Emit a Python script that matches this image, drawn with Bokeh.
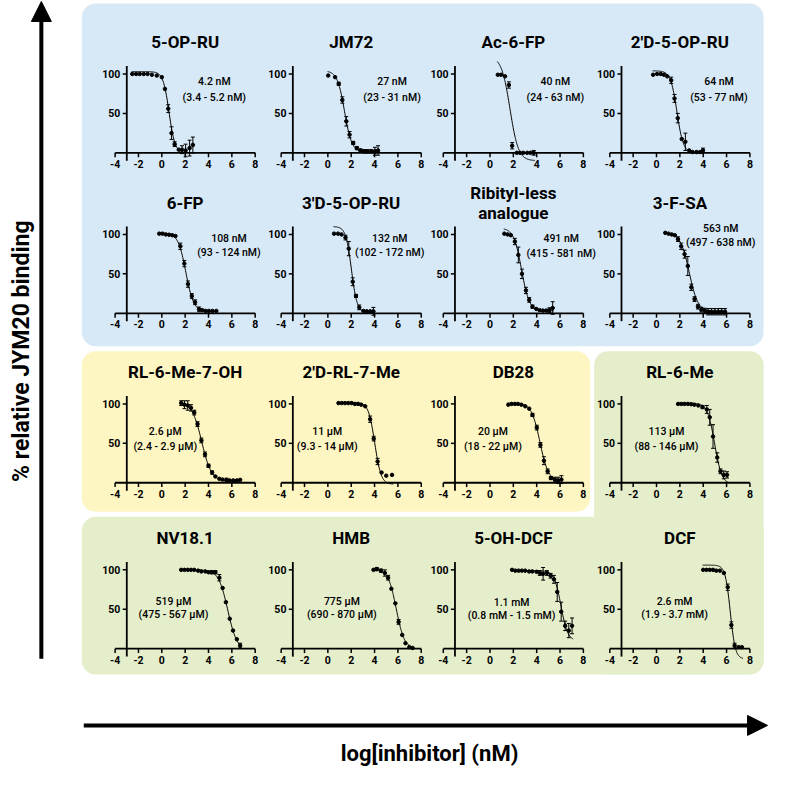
import numpy as np
from bokeh.plotting import figure
from bokeh.models import Range1d, BoxAnnotation, Arrow, NormalHead
from bokeh.core.properties import value
from bokeh.embed import file_html
from bokeh.resources import INLINE

# ---------------- data ----------------
compounds = ["5-OP-RU", "JM72", "Ac-6-FP", "2'D-5-OP-RU",
             "6-FP", "3'D-5-OP-RU", "Ribityl-less\nanalogue", "3-F-SA",
             "RL-6-Me-7-OH", "2'D-RL-7-Me", "DB28", "RL-6-Me",
             "NV18.1", "HMB", "5-OH-DCF", "DCF"]
ic50_text = ["4.2 nM", "27 nM", "40 nM", "64 nM",
             "108 nM", "132 nM", "491 nM", "563 nM",
             "2.6 µM", "11 µM", "20 µM", "113 µM",
             "519 µM", "775 µM", "1.1 mM", "2.6 mM"]
ci_text = ["(3.4 - 5.2 nM)", "(23 - 31 nM)", "(24 - 63 nM)", "(53 - 77 nM)",
           "(93 - 124 nM)", "(102 - 172 nM)", "(415 - 581 nM)", "(497 - 638 nM)",
           "(2.4 - 2.9 µM)", "(9.3 - 14 µM)", "(18 - 22 µM)", "(88 - 146 µM)",
           "(475 - 567 µM)", "(690 - 870 µM)", "(0.8 mM - 1.5 mM)", "(1.9 - 3.7 mM)"]

x_5opru = [-2.53, -2.2, -1.89, -1.55, -1.22, -0.85, -0.43, 0.0, 0.27, 0.55, 0.83, 1.1, 1.45, 1.73, 2.04, 2.38, 2.66]
y_5opru = [100, 100, 100, 100, 100, 99, 98, 96, 81, 56, 25, 11, 4, 4, 3, 6, 10]
e_5opru = [0, 0, 0, 0, 0, 0, 0, 0, 0, 5, 8, 3, 0, 5, 8, 10, 10]

x_jm72 = [0.03, 0.62, 0.93, 1.24, 1.58, 1.86, 2.17, 2.48, 2.79, 3.1, 3.4, 3.72, 4.03, 4.3]
y_jm72 = [98, 96, 87.5, 67, 40, 23, 12.5, 6, 3, 2, 2, 2, 2, 3]
e_jm72 = [0, 0, 2, 4, 6, 4, 2, 2, 2, 2, 2, 2, 5, 6]

x_ac6fp = [0.67, 0.95, 1.29, 1.62, 1.9, 2.29, 2.57, 2.85, 3.19, 3.47, 3.75]
y_ac6fp = [99, 99, 97, 86, 9, 0, 0, 0, 0, 0, 0]
e_ac6fp = [0, 0, 0, 4, 4, 0, 0, 0, 0, 0, 3]

x_2d5opru = [-0.29, 0.05, 0.36, 0.64, 0.92, 1.26, 1.54, 1.82, 2.16, 2.47, 2.8, 3.08, 3.42, 3.73, 3.98]
y_2d5opru = [99, 100, 100, 99, 97, 92, 69, 44, 17.5, 14, 3, 1, 1, 1, 3]
e_2d5opru = [0, 0, 0, 0, 0, 4, 5, 6, 0, 11, 0, 0, 0, 0, 3]

x_6fp = [-0.22, 0.06, 0.34, 0.62, 0.9, 1.17, 1.59, 1.93, 2.24, 2.57, 2.85, 3.19, 3.47, 3.75, 4.03, 4.34, 4.67]
y_6fp = [101, 101, 100, 99.6, 99, 98, 85, 63, 37, 22, 14, 5, 4, 3, 3, 3, 3]
e_6fp = [0, 0, 0, 0, 0, 0, 4, 4, 4, 3, 3, 3, 0, 0, 0, 0, 0]

x_3d5opru = [0.53, 0.87, 1.17, 1.51, 1.79, 2.13, 2.41, 2.69, 3.05, 3.33, 3.62, 3.9]
y_3d5opru = [101, 101, 100, 96, 82, 40, 22, 7.5, 3, 2.5, 2.5, 2.5]
e_3d5opru = [0, 0, 0, 3, 9, 5, 2, 3, 0, 0, 0, 5]

x_ribless = [1.23, 1.51, 1.79, 2.13, 2.43, 2.74, 3.08, 3.36, 3.64, 3.97, 4.25, 4.53, 4.81, 5.09, 5.37]
y_ribless = [101, 100, 99, 91, 74, 50, 29, 17, 8.4, 5.5, 4, 3.4, 3.4, 4, 6.7]
e_ribless = [0, 0, 0, 4, 10, 6, 4, 3, 2, 0, 0, 0, 0, 3, 8]

x_3fsa = [0.75, 1.03, 1.3, 1.57, 1.84, 2.11, 2.4, 2.68, 2.98, 3.26, 3.55, 3.84, 4.13, 4.42, 4.71, 5.0, 5.29, 5.58, 5.87]
y_3fsa = [102, 101, 100, 99, 94, 85, 75, 60, 33, 18, 8.4, 4.6, 3.4, 2, 2, 2, 2, 2, 2]
e_3fsa = [0, 0, 0, 0, 3, 4, 5, 12, 4, 3, 3, 3, 3, 4, 4, 4, 4, 4, 4]

x_rl6me7oh = [1.66, 1.94, 2.22, 2.5, 2.78, 3.06, 3.39, 3.7, 4.0, 4.31, 4.59, 4.93, 5.2, 5.54, 5.81, 6.12, 6.43, 6.71]
y_rl6me7oh = [101, 99, 98, 95, 89, 74.4, 53.7, 36, 21.5, 13, 8, 5, 4, 3.7, 3, 3, 3, 3.7]
e_rl6me7oh = [3, 5, 6, 4, 3, 3, 3, 3, 2, 2, 0, 0, 0, 2, 0, 0, 0, 0]

x_2drl7me = [0.91, 1.19, 1.47, 1.75, 2.03, 2.31, 2.58, 2.86, 3.2, 3.62, 3.93, 4.26, 4.6, 5.0, 5.5]
y_2drl7me = [101, 101, 101, 101, 101, 100, 100, 99, 97, 80.6, 56, 27, 13, 9, 10]
e_2drl7me = [0, 0, 0, 0, 0, 0, 0, 0, 0, 4, 3, 4, 0, 0, 0]

x_db28 = [1.57, 1.85, 2.13, 2.4, 2.69, 3.02, 3.36, 3.64, 4.01, 4.32, 4.62, 4.94, 5.22, 5.56, 5.84, 6.12]
y_db28 = [99, 100, 100, 100, 99, 97, 94, 86, 70, 48, 28, 14.5, 6, 4, 3, 4]
e_db28 = [0, 0, 0, 0, 0, 0, 0, 2, 3, 3, 5, 3, 2, 3, 4, 5]

x_rl6me = [1.85, 2.13, 2.4, 2.69, 2.97, 3.24, 3.58, 3.94, 4.31, 4.56, 4.84, 5.2, 5.48, 5.76, 6.04]
y_rl6me = [100, 100, 100, 100, 99.6, 99, 98, 96, 93, 83, 58.7, 32, 14.5, 10, 10]
e_rl6me = [0, 0, 0, 0, 0, 0, 0, 2, 5, 10, 15, 6, 3, 5, 4]

x_nv181 = [1.66, 1.94, 2.22, 2.5, 2.78, 3.11, 3.39, 3.73, 4.0, 4.28, 4.59, 4.93, 5.21, 5.49, 5.82, 6.1, 6.43, 6.71]
y_nv181 = [100, 100, 100, 100, 100, 99, 98, 98, 97, 97, 97, 90, 77, 59, 38, 23, 12, 4]
e_nv181 = [0, 0, 0, 0, 0, 0, 0, 0, 0, 2, 2, 4, 0, 0, 0, 0, 0, 3]

x_hmb = [3.91, 4.19, 4.55, 4.88, 5.16, 5.44, 5.78, 6.06, 6.37, 6.65, 6.98, 7.26]
y_hmb = [100, 101, 99, 96, 90, 76, 57.5, 34, 17.5, 7, 2, 1]
e_hmb = [0, 2, 2, 4, 3, 0, 0, 3, 0, 0, 0, 0]

x_5ohdcf = [1.89, 2.17, 2.45, 2.73, 3.01, 3.35, 3.63, 3.99, 4.27, 4.55, 4.88, 5.2, 5.48, 5.76, 6.1, 6.44, 6.75, 7.03]
y_5ohdcf = [100, 99, 99, 99, 99, 98, 98, 97.5, 96, 95, 96, 92.5, 88, 72, 47, 29, 23, 29]
e_5ohdcf = [0, 0, 0, 0, 0, 0, 0, 0, 3, 8, 3, 3, 5, 12, 12, 6, 9, 10]

x_dcf = [4.0, 4.28, 4.56, 4.84, 5.12, 5.43, 5.77, 6.1, 6.41, 6.69, 7.03, 7.31]
y_dcf = [100, 100, 100, 100, 99, 99, 96, 78, 30, 4, 2, 2]
e_dcf = [0, 0, 0, 0, 0, 0, 0, 4, 4, 3, 0, 0]

# four-parameter logistic fit parameters
fit_top = [103, 104, 122, 104, 102, 110, 108, 102, 102, 102, 101, 101, 100, 101, 99, 106]
fit_bottom = [0, 1, -10, 0, 2, 1, 3, 2, 2, -2, 2, -2, -2, 0, 10, -13]
fit_logic50 = [0.62, 1.43, 1.71, 1.75, 2.06, 2.02, 2.7, 2.8, 3.42, 4.02, 4.28, 4.98, 5.65, 5.86, 6.08, 6.32]
fit_hill = [1.7, 1.4, 1.2, 1.6, 1.3, 1.8, 1.3, 1.15, 1.05, 1.6, 1.2, 1.4, 1.1, 1.25, 1.5, 2.0]

x_ticks = [-4, -2, 0, 2, 4, 6, 8]
y_ticks = [50, 100]

xs = [x_5opru, x_jm72, x_ac6fp, x_2d5opru, x_6fp, x_3d5opru, x_ribless, x_3fsa,
      x_rl6me7oh, x_2drl7me, x_db28, x_rl6me, x_nv181, x_hmb, x_5ohdcf, x_dcf]
ys = [y_5opru, y_jm72, y_ac6fp, y_2d5opru, y_6fp, y_3d5opru, y_ribless, y_3fsa,
      y_rl6me7oh, y_2drl7me, y_db28, y_rl6me, y_nv181, y_hmb, y_5ohdcf, y_dcf]
es = [e_5opru, e_jm72, e_ac6fp, e_2d5opru, e_6fp, e_3d5opru, e_ribless, e_3fsa,
      e_rl6me7oh, e_2drl7me, e_db28, e_rl6me, e_nv181, e_hmb, e_5ohdcf, e_dcf]

# ---------------- layout (positions of text inside each panel, data units) ----------------
ann_x = [4.5, 5.5, 5.6, 5.35, 5.75, 5.3, 6.1, 5.5,
         0.3, -0.05, 0.25, 0.85, 1.0, 1.2, 1.85, 1.55]
ann_y1 = [90, 90, 90, 90, 95, 95, 95, 107, 65, 65, 65, 65, 60, 60, 58, 60]
ann_y2 = [70, 70, 70, 70, 77, 77, 76, 90, 46, 46, 46, 46, 43.5, 43.5, 41.5, 43.5]

FONT = "Roboto"
FONT_MED = "Roboto Medium, Roboto"
REF = 785.0
col_x0 = [117.0, 286.5, 452.0, 622.0]
row_y0 = [155.5, 319.3, 492.3, 661.7]
PXX = 143.0 / 12.0
PXY = 0.805

p = figure(width=769, height=769, x_range=Range1d(0, REF), y_range=Range1d(0, REF),
           output_backend="svg", toolbar_location=None, min_border=0,
           x_axis_location=None, y_axis_location=None)
p.grid.visible = False
p.outline_line_color = None
p.background_fill_color = "white"
p.border_fill_color = "white"


def bg(l, r, t, b, color):
    p.add_layout(BoxAnnotation(left=l, right=r, top=REF - t, bottom=REF - b,
                               fill_color=color, fill_alpha=1.0, line_color=None,
                               border_radius=14, level="underlay"))


BLUE = "#d7e9f7"
YELLOW = "#fef6c2"
GREEN = "#e4eecb"
bg(83, 779, 3, 353, BLUE)
bg(83, 602, 358, 522, YELLOW)
bg(606, 779, 358, 688, GREEN)
bg(83, 779, 527, 688, GREEN)

xr, yr = {}, {}
for i in range(16):
    r, c = divmod(i, 4)
    X0, Y0 = col_x0[c], row_y0[r]
    xr[f"p{i}"] = Range1d(-4 - X0 / PXX, -4 + (REF - X0) / PXX)
    yr[f"p{i}"] = Range1d(-(REF - Y0) / PXY, Y0 / PXY)
p.extra_x_ranges = xr
p.extra_y_ranges = yr

for i in range(16):
    rn = dict(x_range_name=f"p{i}", y_range_name=f"p{i}")
    # axes
    p.segment(x0=[-4, -3], y0=[0, -10], x1=[8, -3], y1=[0, 110], line_color="black", line_width=1.8, **rn)
    p.segment(x0=x_ticks, y0=[0] * len(x_ticks), x1=x_ticks, y1=[-5.5] * len(x_ticks),
              line_color="black", line_width=1.5, **rn)
    p.segment(x0=[-3.35] * 2, y0=y_ticks, x1=[-3] * 2, y1=y_ticks, line_color="black", line_width=1.5, **rn)
    p.text(x=x_ticks, y=[-14] * len(x_ticks), text=[str(t) for t in x_ticks],
           text_align="center", text_baseline="middle", text_font=value(FONT),
           text_font_size="10.5px", text_font_style="bold", text_color="black", **rn)
    p.text(x=[-3.55] * 2, y=y_ticks, text=[str(t) for t in y_ticks],
           text_align="right", text_baseline="middle", text_font=value(FONT),
           text_font_size="10.5px", text_font_style="bold", text_color="black", **rn)
    # title
    p.text(x=[2], y=[140], text=[compounds[i]], text_align="center", text_baseline="middle",
           text_font=value(FONT), text_font_size="17px", text_font_style="bold",
           text_line_height=1.0, text_color="black", **rn)
    # IC50 annotation
    p.text(x=[ann_x[i], ann_x[i]], y=[ann_y1[i], ann_y2[i]], text=[ic50_text[i], ci_text[i]],
           text_align="center", text_baseline="middle", text_font=value(FONT_MED),
           text_font_size="10.5px", text_color="black", **rn)
    # fitted curve
    lo, hi = min(xs[i]) - 0.05, max(xs[i]) + 0.1
    xc = np.linspace(lo, hi, 150)
    yc = fit_bottom[i] + (fit_top[i] - fit_bottom[i]) / (1 + 10 ** ((xc - fit_logic50[i]) * fit_hill[i]))
    p.line(xc, yc, line_color="black", line_width=1, **rn)
    # error bars
    ex = [x for x, e in zip(xs[i], es[i]) if e > 0]
    ey = [y for y, e in zip(ys[i], es[i]) if e > 0]
    ee = [e for e in es[i] if e > 0]
    if ex:
        lo_y = [y - e for y, e in zip(ey, ee)]
        hi_y = [y + e for y, e in zip(ey, ee)]
        p.segment(x0=ex, y0=lo_y, x1=ex, y1=hi_y, line_color="black", line_width=1, **rn)
        p.segment(x0=[x - 0.17 for x in ex] * 2, y0=lo_y + hi_y, x1=[x + 0.17 for x in ex] * 2,
                  y1=lo_y + hi_y, line_color="black", line_width=1, **rn)
    # points
    p.scatter(xs[i], ys[i], marker="circle", size=3.5, fill_color="black", line_color="black", **rn)

# big arrows and axis titles
p.add_layout(Arrow(end=NormalHead(size=20, fill_color="black", line_color="black"),
                   x_start=41.7, y_start=REF - 672, x_end=41.7, y_end=REF - 1,
                   line_width=4, line_color="black"))
p.add_layout(Arrow(end=NormalHead(size=20, fill_color="black", line_color="black"),
                   x_start=85, y_start=REF - 740, x_end=783, y_end=REF - 740,
                   line_width=4, line_color="black"))
p.text(x=[21], y=[REF - 358], text=["% relative JYM20 binding"], angle=np.pi / 2,
       text_align="center", text_baseline="middle", text_font=value(FONT),
       text_font_size="23px", text_font_style="bold", text_color="black")
p.text(x=[438], y=[REF - 769], text=["log[inhibitor] (nM)"],
       text_align="center", text_baseline="middle", text_font=value(FONT),
       text_font_size="22px", text_font_style="bold", text_color="black")

open("out.html", "w").write(file_html(p, INLINE, title="JYM20 binding"))
